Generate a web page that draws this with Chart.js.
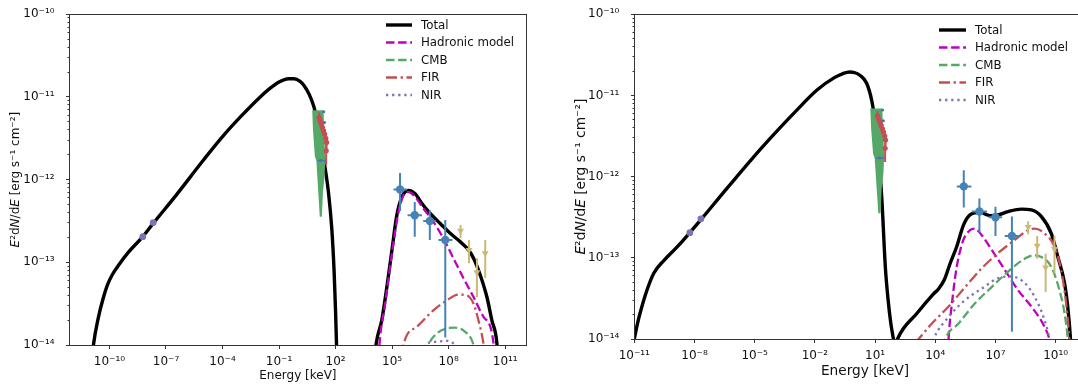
<!DOCTYPE html>
<html>
<head>
<meta charset="utf-8">
<script src="https://cdn.jsdelivr.net/npm/chart.js@4/dist/chart.umd.min.js"></script>
<style>
  html, body { margin: 0; padding: 0; background: #fff; width: 1078px; height: 390px; overflow: hidden; }
  .panel { position: absolute; top: 0; }
  #panelA { left: 0; }
  #panelB { left: 540px; }
</style>
</head>
<body>
<div class="panel" id="panelA"><canvas id="sedA" width="540" height="390"></canvas></div>
<div class="panel" id="panelB"><canvas id="sedB" width="560" height="390"></canvas></div>
<script>
// ---- Observed data (log10 energy [keV], log10 E^2 dN/dE [erg s^-1 cm^-2]) ----
const radioLogE = [-8.23, -7.68];
const radioLogF = [-12.69, -12.52];

const xrayBandLog = [[0.76,-11.16],[1.36,-11.16],[1.45,-11.75],[1.42,-11.95],[1.33,-12.15],[1.27,-12.45],
  [1.16,-12.45],[1.08,-12.15],[1.0,-11.85],[0.98,-11.77],[0.9,-11.72],[0.8,-11.4]];
const xrayRedLogE = [1.12, 1.18, 1.24, 1.30, 1.36, 1.42, 1.48, 1.52, 1.50];
const xrayRedLogF = [-11.25, -11.29, -11.33, -11.37, -11.41, -11.45, -11.50, -11.55, -11.65];
const xrayRedLogFLo = [-11.31, -11.35, -11.39, -11.43, -11.47, -11.51, -11.56, -11.62, -11.82];
const xrayRedLogFHi = [-11.19, -11.23, -11.27, -11.31, -11.35, -11.39, -11.44, -11.49, -11.58];
const xrayBlueLogE = [1.37, 1.41, 1.22];
const xrayBlueLogF = [-11.18, -11.31, -11.77];
const xrayBlueLogELo = [1.30, 1.35, 1.02];
const xrayBlueLogEHi = [1.44, 1.47, 1.45];

const gevLogE = [5.42, 6.20, 7.00, 7.82];
const gevLogF = [-12.12, -12.43, -12.50, -12.73];
const gevLogELo = [5.07, 5.82, 6.65, 7.46];
const gevLogEHi = [5.80, 6.58, 7.33, 8.20];
const gevLogFLo = [-12.38, -12.69, -12.73, -13.91];
const gevLogFHi = [-11.92, -12.27, -12.37, -12.49];

const tevLogE = [8.63, 9.08, 9.50, 9.94];
const tevLogF = [-12.62, -12.85, -13.12, -12.89];
const tevLogFLo = [-12.71, -13.01, -13.42, -13.19];
const tevLogFHi = [-12.55, -12.73, -12.95, -12.73];

// ---- Model curves, panel A ----
const aTotalLog = [[-11.0,-14.35],[-10.85,-14.0],[-10.6,-13.68],[-10.35,-13.45],[-10.1,-13.27],[-9.85,-13.15],
  [-9.5,-13.03],[-9.0,-12.88],[-8.23,-12.69],[-7.68,-12.53],[-6.5,-12.2],[-5.0,-11.76],[-4.0,-11.48],
  [-3.0,-11.23],[-2.0,-11.0],[-1.5,-10.9],[-1.0,-10.82],[-0.5,-10.78],[-0.2,-10.78],[0.1,-10.81],
  [0.35,-10.87],[0.6,-10.97],[0.85,-11.12],[1.05,-11.32],[1.25,-11.6],[1.45,-11.87],[1.63,-12.17],
  [1.8,-12.6],[1.92,-13.1],[2.0,-13.6],[2.05,-14.0],[2.15,-14.6],[3.9,-14.6],[4.02,-14.3],[4.15,-13.99],
  [4.45,-13.70],[4.72,-13.30],[4.98,-12.87],[5.25,-12.43],[5.52,-12.21],[5.87,-12.13],[6.22,-12.17],
  [6.58,-12.29],[7.02,-12.41],[7.55,-12.53],[8.08,-12.65],[8.61,-12.75],[9.05,-12.85],[9.32,-12.95],
  [9.67,-13.15],[10.03,-13.42],[10.29,-13.70],[10.56,-13.98],[10.65,-14.3]];
const aHadronicLog = [[4.25,-14.3],[4.33,-13.99],[4.63,-13.50],[4.98,-12.91],[5.34,-12.39],[5.60,-12.19],
  [5.87,-12.15],[6.22,-12.21],[6.66,-12.35],[7.19,-12.51],[7.72,-12.71],[8.25,-12.95],[8.78,-13.19],
  [9.32,-13.42],[9.85,-13.66],[10.38,-13.98],[10.45,-14.3]];
const aCmbLog = [[6.8,-14.1],[6.93,-14.0],[7.37,-13.86],[7.90,-13.80],[8.34,-13.79],[8.87,-13.84],[9.32,-14.0],[9.4,-14.1]];
const aFirLog = [[5.5,-14.2],[5.60,-14.0],[6.31,-13.78],[7.19,-13.58],[7.90,-13.46],[8.52,-13.39],[8.96,-13.40],
  [9.32,-13.50],[9.58,-13.70],[9.8,-13.92],[9.95,-14.15]];
const aNirLog = [[6.6,-14.1],[6.75,-14.0],[7.37,-13.96],[7.90,-13.95],[8.34,-14.0],[8.45,-14.05]];

// ---- Model curves, panel B ----
const bTotalLog = [[-11.0,-14.0],[-10.85,-13.82],[-10.71,-13.68],[-10.37,-13.40],[-10.03,-13.19],[-9.52,-13.03],
  [-8.84,-12.86],[-8.23,-12.69],[-7.68,-12.53],[-6.3,-12.12],[-4.6,-11.63],[-2.9,-11.18],[-1.88,-10.93],
  [-1.03,-10.78],[-0.6,-10.73],[-0.27,-10.71],[0.0,-10.72],[0.24,-10.75],[0.58,-10.85],[0.83,-11.06],
  [1.09,-11.47],[1.34,-12.29],[1.51,-13.11],[1.65,-13.52],[1.78,-13.8],[1.9,-13.98],[2.0,-14.1],
  [2.12,-14.0],[3.1,-13.68],[3.89,-13.45],[4.17,-13.38],[4.45,-13.27],[4.74,-13.07],[5.07,-12.86],
  [5.40,-12.60],[5.73,-12.47],[6.23,-12.44],[6.72,-12.48],[7.14,-12.47],[7.63,-12.43],[8.29,-12.40],
  [8.79,-12.41],[9.28,-12.49],[9.78,-12.70],[10.11,-12.99],[10.44,-13.31],[10.60,-13.60],[10.73,-13.97],
  [10.8,-14.3]];
const bHadronicLog = [[4.6,-14.3],[4.66,-14.0],[4.83,-13.56],[5.07,-13.11],[5.40,-12.78],[5.73,-12.66],
  [5.98,-12.64],[6.31,-12.72],[6.81,-12.90],[7.47,-13.15],[8.13,-13.40],[8.79,-13.60],[9.45,-13.85],
  [9.69,-14.0],[9.8,-14.1]];
const bCmbLog = [[4.4,-14.1],[4.50,-14.0],[5.16,-13.81],[5.98,-13.56],[6.81,-13.36],[7.63,-13.17],[8.46,-13.01],
  [8.87,-12.97],[9.28,-12.99],[9.78,-13.11],[10.19,-13.40],[10.44,-13.68],[10.60,-14.0],[10.65,-14.2]];
const bFirLog = [[3.0,-14.05],[3.17,-14.0],[3.83,-13.81],[4.66,-13.60],[5.49,-13.36],[6.31,-13.13],[7.14,-12.94],
  [7.96,-12.78],[8.62,-12.66],[8.95,-12.64],[9.45,-12.70],[9.94,-12.86],[10.27,-13.15],[10.52,-13.56],
  [10.68,-14.0],[10.72,-14.2]];
const bNirLog = [[3.8,-14.1],[3.92,-14.0],[4.66,-13.73],[5.49,-13.52],[6.31,-13.38],[7.14,-13.25],[7.80,-13.23],
  [8.46,-13.31],[8.95,-13.48],[9.45,-13.77],[9.69,-14.0],[9.75,-14.1]];

// ---- Tick positions (log10) ----
const aTickExp = [-10, -7, -4, -1, 2, 5, 8, 11];
const bTickExp = [-11, -8, -5, -2, 1, 4, 7, 10];
const yDecades = [-14, -13, -12, -11, -10];

// ---- helpers ----
const p10 = v => Math.pow(10, v);
const SUP = {'-':'\u207B','0':'\u2070','1':'\u00B9','2':'\u00B2','3':'\u00B3','4':'\u2074','5':'\u2075','6':'\u2076','7':'\u2077','8':'\u2078','9':'\u2079'};
const powLabel = v => '10' + String(Math.round(Math.log10(v))).split('').map(c => SUP[c]).join('');
const isDecade = v => Math.abs(Math.log10(v) - Math.round(Math.log10(v))) < 1e-6;
const curveXY = arr => arr.map(([e, f]) => ({x: p10(e), y: p10(f)}));

const C = {
  total: '#000000', had: '#bf00bf', cmb: '#55a868', fir: '#c44e52', nir: '#8172b2',
  gev: '#4682b4', tev: '#ccb974', radio: '#8172b2', xg: '#55a868', xr: '#c44e52', xb: '#4c72b0'
};
const FONT = 'DejaVu Sans';

function observedSets() {
  return [
    { data: tevLogE.map((e, i) => ({x: p10(e), y: p10(tevLogF[i]), yMin: p10(tevLogFLo[i]), yMax: p10(tevLogFHi[i])})),
      errorBars: true, errorColor: C.tev, errorWidth: 2,
      pointStyle: 'triangle', rotation: 180, pointRadius: 4, backgroundColor: C.tev, borderWidth: 0 },
    { data: gevLogE.map((e, i) => ({x: p10(e), y: p10(gevLogF[i]), xMin: p10(gevLogELo[i]), xMax: p10(gevLogEHi[i]),
        yMin: p10(gevLogFLo[i]), yMax: p10(gevLogFHi[i])})),
      errorBars: true, errorColor: C.gev, errorWidth: 2,
      pointRadius: 4.2, backgroundColor: C.gev, borderWidth: 0 },
    { data: radioLogE.map((e, i) => ({x: p10(e), y: p10(radioLogF[i])})),
      pointRadius: 3.4, backgroundColor: C.radio, borderWidth: 0 },
    { data: xrayBlueLogE.map((e, i) => ({x: p10(e), y: p10(xrayBlueLogF[i]), xMin: p10(xrayBlueLogELo[i]), xMax: p10(xrayBlueLogEHi[i])})),
      errorBars: true, errorColor: C.xb, errorWidth: 1.5,
      pointRadius: 1.5, backgroundColor: C.xb, borderWidth: 0 },
    { data: xrayRedLogE.map((e, i) => ({x: p10(e), y: p10(xrayRedLogF[i]), yMin: p10(xrayRedLogFLo[i]), yMax: p10(xrayRedLogFHi[i])})),
      errorBars: true, errorColor: C.xr, errorWidth: 2,
      pointRadius: 2.6, backgroundColor: C.xr, borderWidth: 0 },
    { data: xrayBandLog.map(([e, f]) => ({x: p10(e), y: p10(f)})),
      band: true, bandColor: C.xg, pointRadius: 0 }
  ];
}

function curveSet(label, arr, color, width, dash, rank) {
  return { label, data: curveXY(arr), showLine: true, pointRadius: 0, borderColor: color,
    borderWidth: width, borderDash: dash, cubicInterpolationMode: 'monotone', clip: 0,
    legendRank: rank, borderCapStyle: 'butt' };
}

function modelSets(total, had, cmb, fir, nir) {
  // drawn bottom-up: Total underneath, components over it
  return [
    curveSet('NIR', nir, C.nir, 2.3, [2.3, 3.8], 4),
    curveSet('FIR', fir, C.fir, 2.3, [11, 3.6, 2.3, 3.6], 3),
    curveSet('CMB', cmb, C.cmb, 2.3, [8.5, 3.6], 2),
    curveSet('Hadronic model', had, C.had, 2.3, [8.5, 3.6], 1),
    curveSet('Total', total, C.total, 3.4, [], 0)
  ];
}

// error bars and the X-ray band, drawn just before each dataset's own marks
const marksPlugin = {
  id: 'marks',
  beforeDatasetDraw(chart, args) {
    const ds = chart.data.datasets[args.index];
    if (!ds.errorBars && !ds.band) return;
    const {ctx, chartArea: a, scales: {x, y}} = chart;
    ctx.save();
    ctx.beginPath(); ctx.rect(a.left, a.top, a.right - a.left, a.bottom - a.top); ctx.clip();
    if (ds.band) {
      ctx.fillStyle = ds.bandColor;
      ctx.beginPath();
      ds.data.forEach((p, i) => {
        const px = x.getPixelForValue(p.x), py = y.getPixelForValue(p.y);
        if (i === 0) ctx.moveTo(px, py); else ctx.lineTo(px, py);
      });
      ctx.closePath(); ctx.fill();
    }
    if (ds.errorBars) {
      ctx.strokeStyle = ds.errorColor; ctx.lineWidth = ds.errorWidth; ctx.lineCap = 'butt';
      ds.data.forEach(p => {
        const px = x.getPixelForValue(p.x), py = y.getPixelForValue(p.y);
        ctx.beginPath();
        if (p.yMin != null) { ctx.moveTo(px, y.getPixelForValue(p.yMin)); ctx.lineTo(px, y.getPixelForValue(p.yMax)); }
        if (p.xMin != null) { ctx.moveTo(x.getPixelForValue(p.xMin), py); ctx.lineTo(x.getPixelForValue(p.xMax), py); }
        ctx.stroke();
      });
    }
    ctx.restore();
  }
};

// spines, tick marks, legend and the rotated y title
const framePlugin = {
  id: 'frame',
  afterDraw(chart, args, opts) {
    const {ctx, chartArea: a, scales: {x, y}} = chart;
    ctx.save();
    ctx.strokeStyle = '#333'; ctx.lineWidth = 1; ctx.setLineDash([]);
    const L = Math.floor(a.left) + 0.5, R = Math.floor(a.right) + 0.5;
    const T = Math.floor(a.top) + 0.5, B = Math.floor(a.bottom) + 0.5;
    ctx.strokeRect(L, T, R - L, B - T);
    ctx.beginPath();
    x.ticks.forEach(t => {
      const px = Math.floor(x.getPixelForValue(t.value)) + 0.5;
      ctx.moveTo(px, B); ctx.lineTo(px, B + 3.5);
    });
    y.ticks.forEach(t => {
      const py = Math.floor(y.getPixelForValue(t.value)) + 0.5;
      ctx.moveTo(L, py); ctx.lineTo(L - (isDecade(t.value) ? 3.5 : 2), py);
    });
    ctx.stroke();

    // legend
    const lg = opts.legend;
    const items = chart.data.datasets.filter(d => d.legendRank != null).sort((p, q) => p.legendRank - q.legendRank);
    ctx.font = lg.size + 'px "' + FONT + '"';
    ctx.textBaseline = 'middle'; ctx.textAlign = 'left';
    items.forEach((d, i) => {
      const yy = lg.y0 + i * lg.dy;
      ctx.beginPath();
      ctx.strokeStyle = d.borderColor; ctx.lineWidth = d.borderWidth; ctx.lineCap = 'butt';
      ctx.setLineDash(d.borderDash || []);
      ctx.moveTo(lg.x, yy); ctx.lineTo(lg.x + lg.w, yy); ctx.stroke();
      ctx.setLineDash([]);
      ctx.fillStyle = '#111';
      ctx.fillText(d.label, lg.tx, yy + 0.5);
    });

    // y title: E^2 dN/dE [erg s^-1 cm^-2]
    const yt = opts.ytitle;
    const segs = [['E', 'italic '], ['\u00B2', ''], ['d', ''], ['N', 'italic '], ['/d', ''], ['E', 'italic '],
      [' [erg s\u207B\u00B9 cm\u207B\u00B2]', '']];
    const fontOf = s => s[1] + yt.size + 'px "' + FONT + '"';
    let total = 0;
    segs.forEach(s => { ctx.font = fontOf(s); total += ctx.measureText(s[0]).width; });
    ctx.translate(yt.x, (a.top + a.bottom) / 2);
    ctx.rotate(-Math.PI / 2);
    ctx.fillStyle = '#111'; ctx.textBaseline = 'middle'; ctx.textAlign = 'left';
    let cx = -total / 2;
    segs.forEach(s => { ctx.font = fontOf(s); ctx.fillText(s[0], cx, 0); cx += ctx.measureText(s[0]).width; });
    ctx.restore();
  }
};

function makeChart(canvasId, cfg) {
  return new Chart(document.getElementById(canvasId), {
    type: 'scatter',
    data: { datasets: observedSets().concat(cfg.models) },
    options: {
      responsive: false, animation: false, events: [], devicePixelRatio: 1,
      layout: { padding: cfg.pad },
      plugins: {
        legend: { display: false }, tooltip: { enabled: false },
        frame: { legend: cfg.legend, ytitle: cfg.ytitle }
      },
      scales: {
        x: {
          type: 'logarithmic', min: p10(cfg.xMin), max: p10(cfg.xMax),
          grid: { display: false }, border: { display: false },
          afterBuildTicks: s => { s.ticks = cfg.xTicks.map(e => ({value: p10(e)})); },
          afterFit: s => { s.height = cfg.xHeight; },
          ticks: { autoSkip: false, maxRotation: 0, padding: cfg.xTickPad, color: '#111',
            font: { family: FONT, size: 12 }, callback: v => powLabel(v) },
          title: { display: true, text: 'Energy [keV]', color: '#111',
            font: { family: FONT, size: cfg.titleSize }, padding: { top: 0, bottom: cfg.titlePad } }
        },
        y: {
          type: 'logarithmic', min: 1e-14, max: 1e-10,
          grid: { display: false }, border: { display: false },
          afterBuildTicks: s => {
            const t = [];
            yDecades.forEach(d => { for (let k = 1; k <= 9; k++) { if (d === -10 && k > 1) break; t.push({value: k * p10(d)}); } });
            s.ticks = t;
          },
          afterFit: s => { s.width = cfg.yWidth; },
          ticks: { autoSkip: false, padding: 7, color: '#111', font: { family: FONT, size: 12 },
            callback: v => isDecade(v) ? powLabel(v) : '' }
        }
      }
    },
    plugins: [marksPlugin, framePlugin]
  });
}

Chart.defaults.font.family = FONT;

makeChart('sedA', {
  models: modelSets(aTotalLog, aHadronicLog, aCmbLog, aFirLog, aNirLog),
  xMin: -12.12, xMax: 12.12, xTicks: aTickExp,
  pad: { left: 0, right: 13.7, top: 9.5, bottom: 0 },
  yWidth: 69.5, xHeight: 45, xTickPad: 2, titleSize: 12, titlePad: 7,
  legend: { x: 386, w: 26, tx: 421, y0: 25, dy: 17.5, size: 11.8 },
  ytitle: { x: 15.5, size: 12 }
});

makeChart('sedB', {
  models: modelSets(bTotalLog, bHadronicLog, bCmbLog, bFirLog, bNirLog),
  xMin: -11, xMax: 12, xTicks: bTickExp,
  pad: { left: 0, right: 1, top: 14.3, bottom: 0 },
  yWidth: 94.3, xHeight: 51, xTickPad: 2, titleSize: 13.7, titlePad: 10,
  legend: { x: 399, w: 27, tx: 435, y0: 30, dy: 17.5, size: 11.8 },
  ytitle: { x: 41, size: 13.8 }
});
</script>
</body>
</html>
